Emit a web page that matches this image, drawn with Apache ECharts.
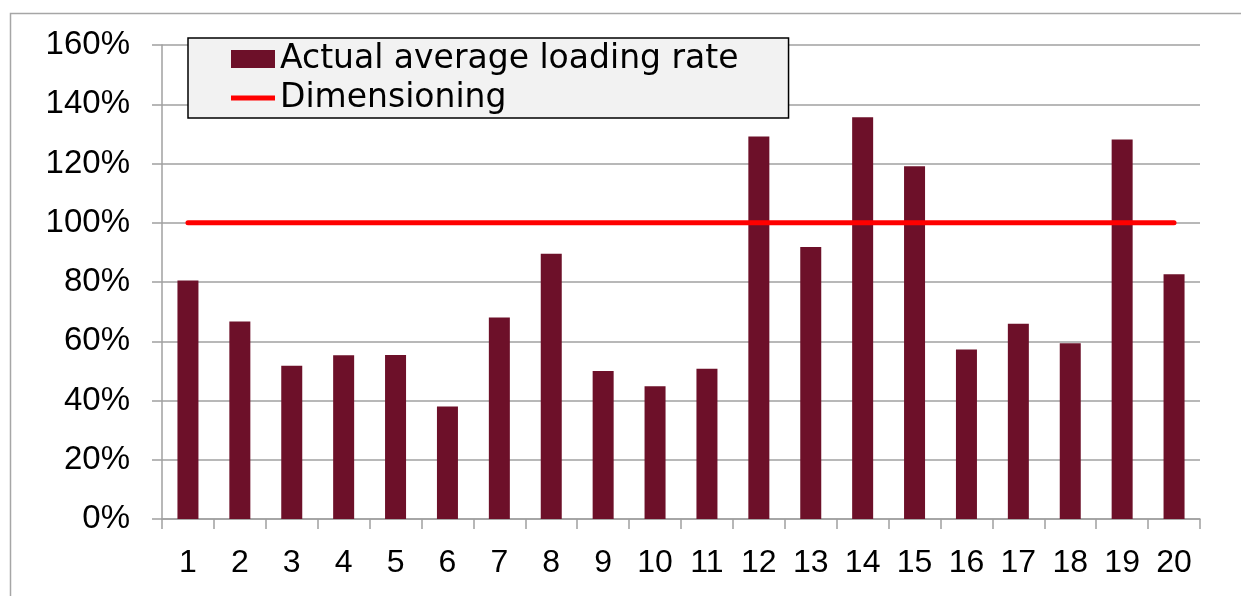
<!DOCTYPE html>
<html>
<head>
<meta charset="utf-8">
<script src="https://cdn.jsdelivr.net/npm/echarts@6/dist/echarts.min.js"></script>
<style>
  html, body { margin: 0; padding: 0; background: #ffffff; }
  #chart { width: 1241px; height: 596px; }
</style>
</head>
<body>
<div id="chart"></div>
<script>
// Periods 1..20
var categories = ['1','2','3','4','5','6','7','8','9','10','11','12','13','14','15','16','17','18','19','20'];
// Actual average loading rate (fraction of dimensioned capacity)
var loadingRate = [0.805, 0.667, 0.517, 0.553, 0.554, 0.380, 0.680, 0.895, 0.500, 0.448,
                   0.507, 1.291, 0.918, 1.356, 1.191, 0.572, 0.659, 0.593, 1.281, 0.826];
// Dimensioning reference level
var dimensioning = [1, 1, 1, 1, 1, 1, 1, 1, 1, 1, 1, 1, 1, 1, 1, 1, 1, 1, 1, 1];
var seriesNames = ['Actual average loading rate', 'Dimensioning'];

var axisFont = 'Liberation Sans';
var legendFont = 'DejaVu Sans';
// thin horizontal stroke centred in the 44x18 legend icon box
var lineIcon = 'path://M0,0h0.01v0.01h-0.01z M0,6.5h44v5h-44z M43.99,18h0.01v-0.01h-0.01z';

var chart = echarts.init(document.getElementById('chart'), null, { renderer: 'canvas' });

chart.setOption({
  animation: false,
  backgroundColor: '#ffffff',
  textStyle: { fontFamily: axisFont },
  graphic: [{
    type: 'rect',
    shape: { x: 10.5, y: 13.5, width: 1400, height: 800 },
    style: { fill: 'none', stroke: '#a6a6a6', lineWidth: 1.5 },
    silent: true
  }],
  grid: { left: 162, right: 41, top: 45, bottom: 77, containLabel: false },
  legend: {
    orient: 'vertical',
    left: 188,
    top: 38,
    padding: [2, 50, 1, 43],
    itemGap: 1,
    itemWidth: 44,
    itemHeight: 18,
    backgroundColor: '#f2f2f2',
    borderColor: '#000000',
    borderWidth: 1.5,
    borderRadius: 0,
    data: [
      { name: seriesNames[0], icon: 'rect' },
      { name: seriesNames[1], icon: lineIcon, itemStyle: { color: '#ff0000' } }
    ],
    textStyle: { fontFamily: legendFont, fontSize: 33, color: '#000000', lineHeight: 38 }
  },
  xAxis: {
    type: 'category',
    data: categories,
    boundaryGap: true,
    axisLine: { show: true, lineStyle: { color: '#a0a0a0', width: 1.5 } },
    axisTick: { show: true, alignWithLabel: false, length: 10, lineStyle: { color: '#a0a0a0', width: 1.5 } },
    axisLabel: { color: '#000000', fontSize: 32, margin: 28, fontFamily: axisFont },
    splitLine: { show: false }
  },
  yAxis: {
    type: 'value',
    min: 0,
    max: 1.6,
    interval: 0.2,
    axisLine: { show: true, lineStyle: { color: '#a0a0a0', width: 1.5 } },
    axisTick: { show: true, length: 10, lineStyle: { color: '#a0a0a0', width: 1.5 } },
    axisLabel: {
      color: '#000000', fontSize: 33, margin: 32, fontFamily: axisFont,
      formatter: function (v) { return Math.round(v * 100) + '%'; }
    },
    splitLine: { show: true, lineStyle: { color: '#a0a0a0', width: 1.5 } }
  },
  series: [
    {
      name: seriesNames[0],
      type: 'bar',
      data: loadingRate,
      barWidth: 21,
      itemStyle: { color: '#6d1029' },
      z: 2
    },
    {
      name: seriesNames[1],
      type: 'line',
      data: dimensioning,
      symbol: 'none',
      lineStyle: { color: '#ff0000', width: 5, cap: 'round' },
      itemStyle: { color: '#ff0000' },
      z: 3
    }
  ]
});
</script>
</body>
</html>
